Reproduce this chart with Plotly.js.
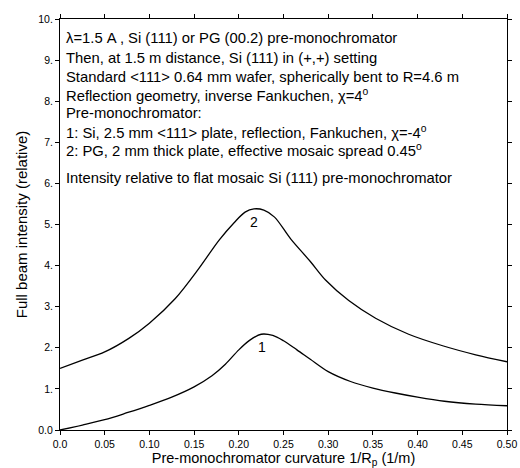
<!DOCTYPE html>
<html>
<head>
<meta charset="utf-8">
<script src="https://cdn.plot.ly/plotly-3.0.1.min.js"></script>
<style>html,body{margin:0;padding:0;background:#fff;}#chart{width:520px;height:468px;}</style>
</head>
<body>
<div id="chart"></div>
<script>
// Curve 1: Si pre-monochromator
const x1 = [0, 0.025, 0.05, 0.075, 0.1, 0.125, 0.15, 0.17, 0.185, 0.2, 0.212, 0.225, 0.238, 0.25, 0.265, 0.28, 0.3, 0.325, 0.35, 0.375, 0.4, 0.43, 0.465, 0.5];
const y1 = [0, 0.12, 0.25, 0.42, 0.6, 0.8, 1.05, 1.32, 1.6, 1.95, 2.18, 2.33, 2.3, 2.17, 1.95, 1.72, 1.42, 1.18, 1.02, 0.9, 0.8, 0.7, 0.63, 0.59];
// Curve 2: PG pre-monochromator
const x2 = [0, 0.025, 0.05, 0.077, 0.1, 0.129, 0.155, 0.178, 0.195, 0.207, 0.217, 0.228, 0.24, 0.258, 0.28, 0.297, 0.323, 0.353, 0.39, 0.428, 0.465, 0.5];
const y2 = [1.5, 1.7, 1.9, 2.23, 2.6, 3.2, 3.92, 4.62, 5.05, 5.3, 5.38, 5.35, 5.18, 4.65, 4.1, 3.65, 3.15, 2.72, 2.33, 2.05, 1.83, 1.66];

const xTickVals = [0, 0.05, 0.1, 0.15, 0.2, 0.25, 0.3, 0.35, 0.4, 0.45, 0.5];
const xTickText = ['0.0', '0.05', '0.10', '0.15', '0.20', '0.25', '0.30', '0.35', '0.40', '0.45', '0.50'];
const yTickVals = [0, 1, 2, 3, 4, 5, 6, 7, 8, 9, 10];
const yTickText = ['0.0', '1.', '2.', '3.', '4.', '5.', '6.', '7.', '8.', '9.', '10.'];

const curveLabels = ['1', '2'];
const infoLines = [
  'λ=1.5 A , Si (111) or PG (00.2) pre-monochromator',
  'Then, at 1.5 m distance, Si (111) in (+,+) setting',
  'Standard &lt;111&gt; 0.64 mm wafer, spherically bent to R=4.6 m',
  'Reflection geometry, inverse Fankuchen, χ=4<sup>o</sup>',
  'Pre-monochromator:',
  '1: Si, 2.5 mm &lt;111&gt; plate, reflection, Fankuchen, χ=-4<sup>o</sup>',
  '2: PG, 2 mm thick plate, effective mosaic spread 0.45<sup>o</sup>',
  'Intensity relative to flat mosaic Si (111) pre-monochromator'
];
const infoY = [9.54, 9.05, 8.59, 8.15, 7.71, 7.25, 6.81, 6.13];

const font = 'Liberation Sans, Arial, sans-serif';
const traces = [
  {x: x1, y: y1, mode: 'lines', line: {color: '#000', width: 1.3, shape: 'spline', smoothing: 0.9}, hoverinfo: 'skip'},
  {x: x2, y: y2, mode: 'lines', line: {color: '#000', width: 1.3, shape: 'spline', smoothing: 0.9}, hoverinfo: 'skip'}
];

const annotations = infoLines.map((t, i) => ({
  text: t, x: 0.004, y: infoY[i], xref: 'x', yref: 'y', xanchor: 'left', yanchor: 'middle',
  showarrow: false, font: {family: font, size: 14.8, color: '#000'}
}));
annotations.push({text: curveLabels[0], x: 0.226, y: 2.03, xref: 'x', yref: 'y', showarrow: false, font: {family: font, size: 14, color: '#000'}});
annotations.push({text: curveLabels[1], x: 0.217, y: 5.06, xref: 'x', yref: 'y', showarrow: false, font: {family: font, size: 14, color: '#000'}});

const axisCommon = {
  showline: true, linecolor: '#000', linewidth: 1, mirror: 'ticks', ticks: 'outside', ticklen: 4,
  tickcolor: '#000', tickwidth: 1, showgrid: false, zeroline: false, fixedrange: true,
  tickfont: {family: font, size: 10.5, color: '#000'}
};

const layout = {
  width: 520, height: 468,
  margin: {l: 60, r: 13, t: 19, b: 38},
  paper_bgcolor: '#fff', plot_bgcolor: '#fff',
  showlegend: false,
  xaxis: Object.assign({}, axisCommon, {
    range: [0, 0.5], tickmode: 'array', tickvals: xTickVals, ticktext: xTickText,
    title: {text: 'Pre-monochromator curvature 1/R<sub>p</sub> (1/m)', font: {family: font, size: 14.5, color: '#000'}, standoff: 4}
  }),
  yaxis: Object.assign({}, axisCommon, {
    range: [0, 10], tickmode: 'array', tickvals: yTickVals, ticktext: yTickText,
    title: {text: 'Full beam intensity (relative)', font: {family: font, size: 15, color: '#000'}, standoff: 7}
  }),
  annotations: annotations
};

Plotly.newPlot('chart', traces, layout, {displayModeBar: false, staticPlot: true});
</script>
</body>
</html>
